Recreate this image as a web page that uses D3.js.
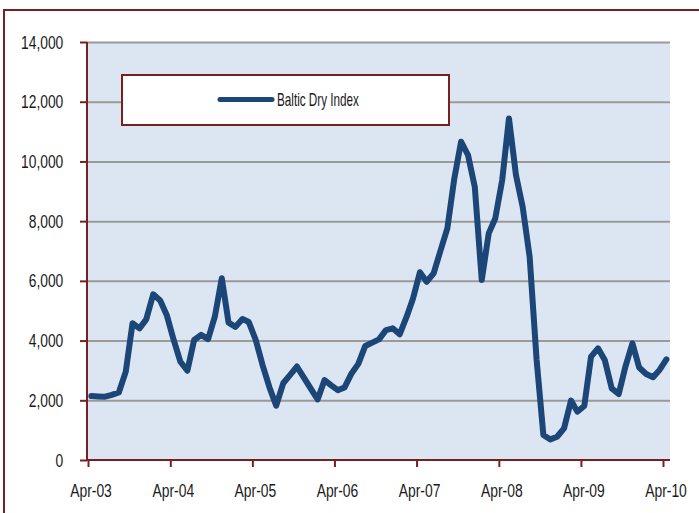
<!DOCTYPE html>
<html>
<head>
<meta charset="utf-8">
<script src="https://cdn.jsdelivr.net/npm/d3@7"></script>
<style>
  body { margin: 0; background: #fff; }
  svg text { font-family: "Liberation Sans", Arial, sans-serif; fill: #1a1a1a; }
</style>
</head>
<body>
<svg id="chart" width="699" height="513"></svg>
<script>
'use strict';

// monthly Baltic Dry Index, Apr-03 .. Apr-10
const bdi = [
  2140, 2130, 2120, 2180, 2260, 2960, 4580, 4410, 4710, 5550,
  5340, 4860, 4020, 3290, 2990, 4020, 4190, 4050, 4800, 6090,
  4600, 4460, 4720, 4620, 4020, 3190, 2430, 1820, 2570, 2850,
  3130, 2760, 2400, 2030, 2680, 2510, 2340, 2430, 2900, 3220,
  3820, 3930, 4040, 4350, 4410, 4210, 4800, 5400, 6290, 5970,
  6250, 7000, 7760, 9430, 10660, 10210, 9150, 6030, 7590, 8090,
  9380, 11440, 9550, 8480, 6800, 3350, 840, 690, 780, 1060,
  1990, 1620, 1810, 3460, 3740, 3350, 2400, 2210, 3130, 3910,
  3100, 2880, 2770, 3010, 3370
];
const tickYears = [2003, 2004, 2005, 2006, 2007, 2008, 2009, 2010];
const xTickLabels = ['Apr-03', 'Apr-04', 'Apr-05', 'Apr-06', 'Apr-07', 'Apr-08', 'Apr-09', 'Apr-10'];
const yTicks = [0, 2000, 4000, 6000, 8000, 10000, 12000, 14000];
const seriesName = 'Baltic Dry Index';

const red = '#7a1f1f';
const blue = '#1b4677';

const plot = { left: 87, top: 42, right: 670, bottom: 460 };

const svg = d3.select('#chart');

// squeeze a label group so that one sample label gets the wanted width
function squeeze(texts, sample, width) {
  const node = texts.filter(function () { return this.textContent === sample; }).node();
  return width / node.getComputedTextLength();
}

const x = d3.scaleTime()
  .domain([new Date(2003, 3, 1), new Date(2010, 3, 1)])
  .range([88, 663]);

const y = d3.scaleLinear()
  .domain([0, 14000])
  .range([plot.bottom, plot.top]);

const data = bdi.map((v, i) => ({ date: new Date(2003, 3 + i, 16), value: v }));

// outer frame
svg.append('rect')
  .attr('x', 4).attr('y', 10)
  .attr('width', 800).attr('height', 600)
  .attr('fill', 'none')
  .attr('stroke', red)
  .attr('stroke-width', 2);

// plot background
svg.append('rect')
  .attr('x', plot.left).attr('y', plot.top)
  .attr('width', plot.right - plot.left)
  .attr('height', plot.bottom - plot.top)
  .attr('fill', '#dce6f2');

// gridlines
const grid = svg.append('g')
  .attr('transform', `translate(${plot.left},0)`)
  .call(d3.axisLeft(y).tickValues(yTicks.slice(1)).tickSize(-(plot.right - plot.left)).tickFormat(''));
grid.select('.domain').remove();
grid.selectAll('line').attr('stroke', '#9a9a9a').attr('stroke-width', 2);

// series
const line = d3.line()
  .x(d => x(d.date))
  .y(d => y(d.value));

svg.append('path')
  .datum(data)
  .attr('d', line)
  .attr('fill', 'none')
  .attr('stroke', blue)
  .attr('stroke-width', 6)
  .attr('stroke-linejoin', 'round')
  .attr('stroke-linecap', 'round');

// legend
const legend = svg.append('g');
legend.append('rect')
  .attr('x', 122).attr('y', 75)
  .attr('width', 327).attr('height', 50)
  .attr('fill', '#fff')
  .attr('stroke', red)
  .attr('stroke-width', 2);
legend.append('line')
  .attr('x1', 220).attr('x2', 272)
  .attr('y1', 99.5).attr('y2', 99.5)
  .attr('stroke', blue)
  .attr('stroke-width', 5)
  .attr('stroke-linecap', 'round');
const legendText = legend.append('text')
  .style('font-size', '18.5px')
  .text(seriesName);
const ls = squeeze(legendText, seriesName, 82);
legendText.attr('transform', `translate(277,105.5) scale(${ls},1)`);

// y axis
const yAxis = svg.append('g')
  .attr('transform', `translate(${plot.left},0)`)
  .call(d3.axisLeft(y).tickValues(yTicks).tickSize(7).tickFormat(d3.format(',')));
yAxis.select('.domain')
  .attr('d', `M0,${plot.top}V${plot.bottom}`)
  .attr('stroke', red).attr('stroke-width', 2);
yAxis.selectAll('.tick line').attr('stroke', red).attr('stroke-width', 2);
const yText = yAxis.selectAll('.tick text').style('font-size', '19px');
const ys = squeeze(yText, '14,000', 42.3);
yText
  .attr('x', -23.7 / ys)
  .attr('transform', `scale(${ys},1)`);

// x axis
const xAxis = svg.append('g')
  .attr('transform', `translate(0,${plot.bottom})`)
  .call(d3.axisBottom(x)
    .tickValues(tickYears.map(yr => new Date(yr, 3, 1)))
    .tickSize(7)
    .tickFormat((d, i) => xTickLabels[i]));
xAxis.select('.domain')
  .attr('d', `M${plot.left},0H${plot.right}`)
  .attr('stroke', red).attr('stroke-width', 2);
xAxis.selectAll('.tick line').attr('stroke', red).attr('stroke-width', 2);
const xText = xAxis.selectAll('.tick text').style('font-size', '19px');
const xs = squeeze(xText, 'Apr-03', 41.7);
xText
  .attr('y', 36.7)
  .attr('dy', 0)
  .attr('x', 2.5 / xs)
  .attr('transform', `scale(${xs},1)`);
</script>
</body>
</html>
